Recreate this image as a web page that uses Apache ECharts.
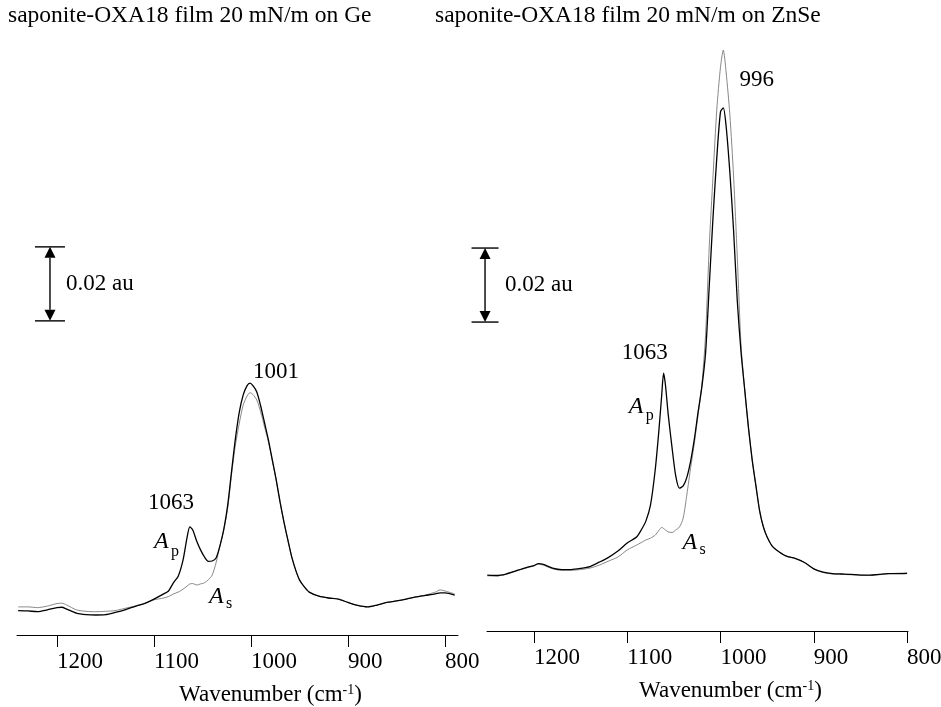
<!DOCTYPE html>
<html><head><meta charset="utf-8">
<script src="https://cdn.jsdelivr.net/npm/echarts@6/dist/echarts.min.js"></script>
<style>html,body{margin:0;padding:0;background:#fff}#c{width:941px;height:707px}</style>
</head><body><div id="c"></div>
<script>
// ---------- data (absorbance, au) ----------
const wnGe = [1240,1230,1220,1210,1200,1195,1190,
  1180,1170,1160,1150,1140,1130,1120,1110,1100,
  1090,1085,1080,1075,1070,1066,1063,1060,
  1056,1052,1048,1044,1040,1036,1032,1028,1024,1020,1016,1012,1008,1004,
  1001,998,994,990,986,982,978,974,970,966,962,958,954,950,945,940,
  930,920,910,900,890,880,870,860,850,840,830,820,810,805,800,790];
const apGe = [0.0066,0.0065,0.0063,0.0068,0.0074,0.0075,0.0070,
  0.0059,0.0055,0.0054,0.0055,0.0061,0.0068,0.0077,0.0085,0.0097,
  0.0111,0.0119,0.0141,0.0159,0.0203,0.0262,0.0292,0.0284,
  0.0254,0.0230,0.0211,0.0199,0.0200,0.0208,0.0241,0.0286,0.0351,0.0443,0.0532,0.0603,0.0649,0.0674,
  0.0681,0.0674,0.0657,0.0619,0.0573,0.0527,0.0473,0.0419,0.0359,0.0305,0.0257,0.0211,0.0176,0.0149,0.0130,0.0116,
  0.0105,0.0100,0.0097,0.0088,0.0080,0.0076,0.0081,0.0088,0.0092,0.0097,0.0103,0.0107,0.0111,0.0114,0.0114,0.0108];
const asGe = [0.0076,0.0076,0.0074,0.0078,0.0085,0.0086,0.0081,
  0.0068,0.0064,0.0063,0.0064,0.0066,0.0072,0.0078,0.0085,0.0095,
  0.0100,0.0104,0.0111,0.0116,0.0124,0.0132,0.0138,0.0139,
  0.0135,0.0138,0.0141,0.0149,0.0162,0.0195,0.0241,0.0284,0.0343,0.0435,0.0514,0.0573,0.0622,0.0646,
  0.0655,0.0650,0.0635,0.0603,0.0562,0.0522,0.0470,0.0419,0.0359,0.0305,0.0257,0.0211,0.0176,0.0149,0.0130,0.0116,
  0.0105,0.0100,0.0097,0.0088,0.0080,0.0076,0.0081,0.0088,0.0092,0.0097,0.0103,0.0108,0.0116,0.0122,0.0119,0.0111];

const wnZnSe = [1250,1240,1230,1220,1210,1200,1195,1190,
  1180,1170,1160,1150,1140,1130,1120,1110,1100,
  1090,1085,1080,1075,1070,1066,1063,1061,1059,
  1056,1052,1048,1044,1040,1036,1032,1028,1024,1020,1016,1012,1008,1004,
  1000,997,994,990,986,982,978,974,970,966,962,958,954,950,945,940,
  930,920,910,900,890,880,870,860,850,840,830,820,810,800];
const apZnSe = [0.0151,0.0150,0.0154,0.0162,0.0170,0.0177,0.0182,0.0180,
  0.0170,0.0166,0.0166,0.0169,0.0174,0.0186,0.0199,0.0216,0.0238,
  0.0254,0.0273,0.0297,0.0341,0.0435,0.0543,0.0638,0.0697,0.0665,
  0.0584,0.0497,0.0419,0.0386,0.0392,0.0416,0.0459,0.0519,0.0592,0.0659,0.0751,0.0935,0.1119,0.1278,
  0.1403,0.1414,0.1365,0.1241,0.1084,0.0892,0.0754,0.0651,0.0549,0.0462,0.0392,0.0324,0.0281,0.0254,0.0231,0.0219,
  0.0203,0.0196,0.0185,0.0168,0.0159,0.0155,0.0154,0.0153,0.0151,0.0151,0.0153,0.0155,0.0155,0.0156];
const asZnSe = [0.0149,0.0149,0.0153,0.0161,0.0169,0.0176,0.0181,0.0178,
  0.0168,0.0164,0.0164,0.0166,0.0170,0.0178,0.0189,0.0200,0.0219,
  0.0232,0.0239,0.0246,0.0251,0.0259,0.0272,0.0280,0.0277,0.0273,
  0.0268,0.0266,0.0273,0.0281,0.0305,0.0370,0.0441,0.0508,0.0585,0.0665,0.0800,0.1043,0.1230,0.1408,
  0.1524,0.1570,0.1511,0.1397,0.1230,0.1011,0.0773,0.0651,0.0549,0.0462,0.0392,0.0324,0.0281,0.0254,0.0231,0.0219,
  0.0203,0.0196,0.0185,0.0168,0.0158,0.0154,0.0153,0.0152,0.0151,0.0150,0.0152,0.0155,0.0156,0.0157];

const tickValues = [1200,1100,1000,900,800];
const panelTitles = ['saponite-OXA18 film 20 mN/m on Ge','saponite-OXA18 film 20 mN/m on ZnSe'];
const scaleBarValue = 0.02;
const peakLabelsGe = ['1001','1063'];
const peakLabelsZnSe = ['996','1063'];

// ---------- chart ----------
const FONT = '"Liberation Serif","Times New Roman",serif';
const pairs = (x, y) => x.map((v, i) => [v, y[i]]);
const chart = echarts.init(document.getElementById('c'));

function xAxis(gi, min, max) {
  return {
    type: 'value', gridIndex: gi, inverse: true, min: min, max: max,
    axisLine: { show: true, onZero: false, lineStyle: { color: '#000', width: 1 } },
    axisTick: { show: true, customValues: tickValues, length: 12, lineStyle: { color: '#000', width: 1 } },
    axisLabel: { customValues: tickValues, formatter: v => String(v), align: 'left', margin: 15,
      color: '#000', fontFamily: FONT, fontSize: 23, hideOverlap: false },
    splitLine: { show: false },
    name: 'Wavenumber (cm{sup|-1})',
    nameLocation: 'middle', nameGap: 48,
    nameTextStyle: { color: '#000', fontFamily: FONT, fontSize: 23, padding: [0, 0, 0, 66],
      rich: { sup: { fontFamily: FONT, fontSize: 14, color: '#000', padding: [0, 0, 10, 0] } } }
  };
}
function yAxis(gi) { return { type: 'value', gridIndex: gi, min: 0, max: 0.16, show: false }; }
function line(gi, x, y, color, width, z) {
  return { type: 'line', xAxisIndex: gi, yAxisIndex: gi, data: pairs(x, y), showSymbol: false,
    smooth: 0.25, lineStyle: { color: color, width: width }, z: z, silent: true, animation: false };
}
const titleStyle = { fontFamily: FONT, fontSize: 23.5, fontWeight: 'normal', color: '#000' };

chart.setOption({
  animation: false,
  backgroundColor: '#fff',
  title: [
    { text: panelTitles[0], left: 8, top: 4, padding: 0, textStyle: titleStyle },
    { text: panelTitles[1], left: 435, top: 4, padding: 0, textStyle: titleStyle }
  ],
  grid: [
    { left: 17, right: 483, top: 43, bottom: 72, containLabel: false, outerBoundsMode: 'none' },
    { left: 487, right: 33, top: 39, bottom: 76, containLabel: false, outerBoundsMode: 'none' }
  ],
  xAxis: [xAxis(0, 786.6, 1241.2), xAxis(1, 799, 1250.3)],
  yAxis: [yAxis(0), yAxis(1)],
  series: [
    line(0, wnGe, asGe, '#7a7a7a', 0.9, 2),
    line(0, wnGe, apGe, '#000', 1.3, 3),
    line(1, wnZnSe, asZnSe, '#7a7a7a', 0.9, 2),
    line(1, wnZnSe, apZnSe, '#000', 1.3, 3)
  ]
});

// ---------- annotations placed through the axes ----------
const P = (gi, wn, v) => chart.convertToPixel({ gridIndex: gi }, [wn, v]);
const els = [];
function text(gi, wn, v, s, size, italic, dx, dy) {
  const p = P(gi, wn, v);
  els.push({ type: 'text', x: p[0] + (dx || 0), y: p[1] + (dy || 0), silent: true,
    style: { text: s, fill: '#000', font: (italic ? 'italic ' : '') + size + 'px ' + FONT,
      align: 'left', verticalAlign: 'middle' } });
}
function sub(gi, wn, v, letter, dy) {
  text(gi, wn, v, 'A', 24, true, 0, 0);
  text(gi, wn, v, letter, 16, false, 17, dy);
}
function scaleBar(gi, wn, vBottom, capHalf, gap) {
  const t = P(gi, wn, vBottom + scaleBarValue), b = P(gi, wn, vBottom);
  const x = t[0], ah = 11, aw = 5.5;
  const ls = { stroke: '#000', lineWidth: 1.4 };
  els.push({ type: 'line', silent: true, shape: { x1: x - capHalf, y1: t[1], x2: x + capHalf, y2: t[1] }, style: ls });
  els.push({ type: 'line', silent: true, shape: { x1: x - capHalf, y1: b[1], x2: x + capHalf, y2: b[1] }, style: ls });
  els.push({ type: 'line', silent: true, shape: { x1: x, y1: t[1] + ah, x2: x, y2: b[1] - ah }, style: ls });
  els.push({ type: 'polygon', silent: true, shape: { points: [[x, t[1]], [x - aw, t[1] + ah], [x + aw, t[1] + ah]] }, style: { fill: '#000' } });
  els.push({ type: 'polygon', silent: true, shape: { points: [[x, b[1]], [x - aw, b[1] - ah], [x + aw, b[1] - ah]] }, style: { fill: '#000' } });
  els.push({ type: 'text', silent: true, x: x + gap, y: (t[1] + b[1]) / 2,
    style: { text: scaleBarValue + ' au', fill: '#000', font: '23px ' + FONT, align: 'left', verticalAlign: 'middle' } });
}

scaleBar(0, 1207.2, 0.0849, 15, 16);
scaleBar(1, 1252.4, 0.0835, 13.5, 20);

text(0, 997.9, 0.0711, peakLabelsGe[0], 23, false);
text(0, 1106.2, 0.0357, peakLabelsGe[1], 23, false);
sub(0, 1100.0, 0.0251, 'p', 10);
sub(0, 1043.3, 0.0103, 's', 7);

text(1, 979.7, 0.1489, peakLabelsZnSe[0], 23, false);
text(1, 1105.9, 0.0751, peakLabelsZnSe[1], 23, false);
sub(1, 1098.4, 0.0605, 'p', 9);
sub(1, 1040.6, 0.0238, 's', 7);

chart.setOption({ graphic: els });
</script></body></html>
